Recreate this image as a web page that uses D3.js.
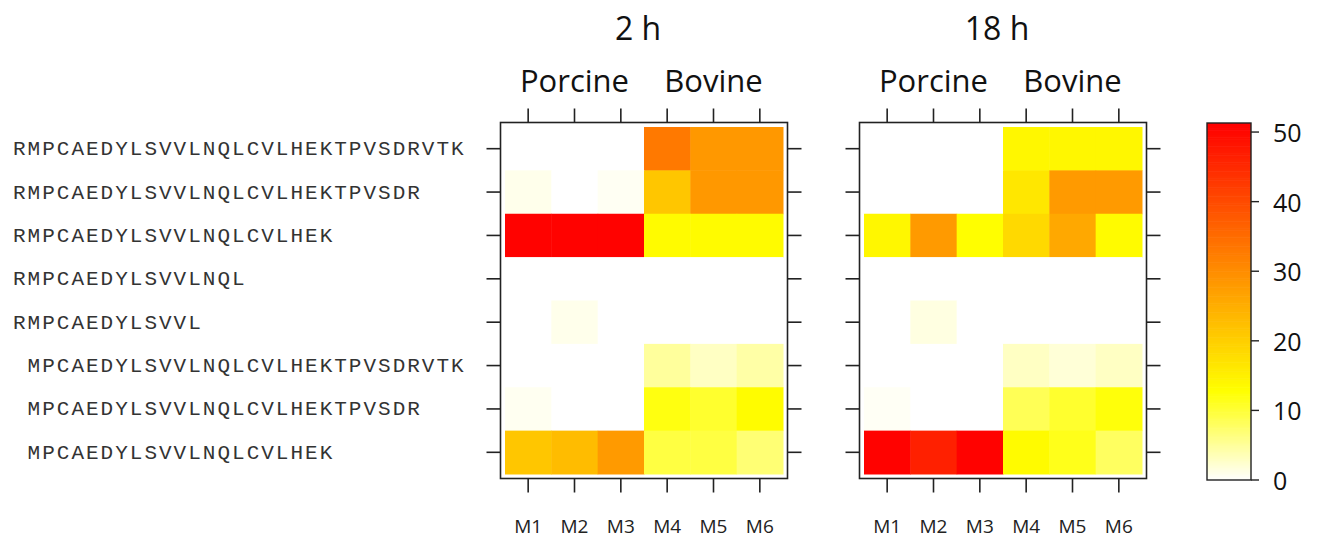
<!DOCTYPE html>
<html>
<head>
<meta charset="utf-8">
<script src="https://cdn.jsdelivr.net/npm/d3@7"></script>
<style>
  body { margin: 0; background: #fff; }
  svg { display: block; }
</style>
</head>
<body>
<svg id="chart"></svg>
<script>
/* data */
var peptides = [
  'RMPCAEDYLSVVLNQLCVLHEKTPVSDRVTK',
  'RMPCAEDYLSVVLNQLCVLHEKTPVSDR',
  'RMPCAEDYLSVVLNQLCVLHEK',
  'RMPCAEDYLSVVLNQL',
  'RMPCAEDYLSVVL',
  ' MPCAEDYLSVVLNQLCVLHEKTPVSDRVTK',
  ' MPCAEDYLSVVLNQLCVLHEKTPVSDR',
  ' MPCAEDYLSVVLNQLCVLHEK'
];
var samples = ['M1', 'M2', 'M3', 'M4', 'M5', 'M6'];
var groups = ['Porcine', 'Bovine'];
var panelTitles = ['2 h', '18 h'];
var legendTicks = [0, 10, 20, 30, 40, 50];
var maxValue = 51.3;

// one row per peptide, columns M1..M6
var values2h = [
  [0, 0, 0, 33, 28.3, 28.3],
  [1.0, 0, 0.6, 21.5, 28.3, 28.3],
  [51, 51, 51, 13.5, 13.5, 13.5],
  [0, 0, 0, 0, 0, 0],
  [0, 1.0, 0, 0, 0, 0],
  [0, 0, 0, 5, 3, 4.5],
  [0.7, 0, 0, 12, 10.5, 13.3],
  [21.5, 23, 28, 9.5, 9.5, 7]
];
var values18h = [
  [0, 0, 0, 14, 14, 14],
  [0, 0, 0, 16.5, 28, 28],
  [14, 28, 13, 18.5, 26, 13.5],
  [0, 0, 0, 0, 0, 0],
  [0, 1.5, 0, 0, 0, 0],
  [0, 0, 0, 3, 2, 3],
  [0.5, 0, 0, 8.5, 10.5, 12.3],
  [51, 46.5, 51, 13.5, 11.5, 8]
];

var width = 1321;
var height = 538;
var svg = d3.select('#chart').attr('width', width).attr('height', height);
var sansFont = '"Open Sans", "Noto Sans", sans-serif';

/* colour: white -> yellow for the lowest quarter, then hue yellow -> red */
var knee = maxValue / 4;
var lowScale = d3.scaleLinear().domain([0, knee]).range(['#ffffff', '#ffff00']).clamp(true);
var highScale = d3.scaleLinear().domain([knee, maxValue])
  .range(['#ffff00', '#ff0000']).interpolate(d3.interpolateHsl).clamp(true);
function heat(v) {
  return v <= knee ? lowScale(v) : highScale(v);
}

var cellTop = 127, cellBottom = 474, inset = 4.5;
var panels = [
  { title: panelTitles[0], data: values2h, x0: 505 },
  { title: panelTitles[1], data: values18h, x0: 864 }
];
var cellWidth = 278;

var y = d3.scaleBand().domain(d3.range(peptides.length)).range([cellTop, cellBottom]);

/* peptide labels */
svg.append('g').selectAll('text')
  .data(peptides)
  .enter()
  .append('text')
  .attr('x', 13)
  .attr('y', function(d, i){ return y(i) + y.bandwidth() / 2 + 1; })
  .attr('dominant-baseline', 'central')
  .style('white-space', 'pre')
  .style('font-family', '"Liberation Mono", "Courier New", monospace')
  .style('font-size', '21px')
  .style('letter-spacing', '2px')
  .style('fill', '#333')
  .text(function(d){ return d; });

panels.forEach(function(p){
  var x = d3.scaleBand().domain(samples).range([p.x0, p.x0 + cellWidth]);
  var g = svg.append('g');
  var fx0 = p.x0 - inset, fx1 = p.x0 + cellWidth + inset;
  var fy0 = cellTop - inset, fy1 = cellBottom + inset;

  var cells = [];
  p.data.forEach(function(row, r){
    row.forEach(function(v, c){ cells.push({ r: r, c: samples[c], v: v }); });
  });

  g.selectAll('rect.cell')
    .data(cells)
    .enter()
    .append('rect')
    .attr('class', 'cell')
    .attr('x', function(d){ return x(d.c); })
    .attr('y', function(d){ return y(d.r); })
    .attr('width', x.bandwidth() + 0.5)
    .attr('height', y.bandwidth() + 0.5)
    .attr('fill', function(d){ return heat(d.v); });

  // frame
  g.append('rect')
    .attr('x', fx0).attr('y', fy0)
    .attr('width', fx1 - fx0).attr('height', fy1 - fy0)
    .attr('fill', 'none').attr('stroke', '#222').attr('stroke-width', 1.6);

  // outward ticks
  var tickLen = 14;
  samples.forEach(function(s){
    var cx = x(s) + x.bandwidth() / 2;
    g.append('line').attr('x1', cx).attr('x2', cx).attr('y1', fy0).attr('y2', fy0 - tickLen)
      .attr('stroke', '#222').attr('stroke-width', 1.6);
    g.append('line').attr('x1', cx).attr('x2', cx).attr('y1', fy1).attr('y2', fy1 + tickLen)
      .attr('stroke', '#222').attr('stroke-width', 1.6);
  });
  peptides.forEach(function(d, i){
    var cy = y(i) + y.bandwidth() / 2;
    g.append('line').attr('x1', fx0).attr('x2', fx0 - tickLen).attr('y1', cy).attr('y2', cy)
      .attr('stroke', '#222').attr('stroke-width', 1.6);
    g.append('line').attr('x1', fx1).attr('x2', fx1 + tickLen).attr('y1', cy).attr('y2', cy)
      .attr('stroke', '#222').attr('stroke-width', 1.6);
  });

  // sample labels
  g.selectAll('text.sample')
    .data(samples)
    .enter()
    .append('text')
    .attr('class', 'sample')
    .attr('x', function(d){ return x(d) + x.bandwidth() / 2; })
    .attr('y', 533)
    .attr('text-anchor', 'middle')
    .style('font-family', sansFont)
    .style('font-size', '19px')
    .style('fill', '#222')
    .text(function(d){ return d; });

  // group labels
  groups.forEach(function(gName, gi){
    var a = samples[gi * 3], b = samples[gi * 3 + 2];
    var cx = (x(a) + x(b) + x.bandwidth()) / 2;
    g.append('text')
      .attr('x', cx).attr('y', 92)
      .attr('text-anchor', 'middle')
      .style('font-family', sansFont)
      .style('font-size', '31px')
      .style('fill', '#111')
      .text(gName);
  });

  // panel title
  g.append('text')
    .attr('x', (fx0 + fx1) / 2 - 6).attr('y', 40)
    .attr('text-anchor', 'middle')
    .style('font-family', sansFont)
    .style('font-size', '32px')
    .style('fill', '#111')
    .text(p.title);
});

/* colour key */
var keyX = 1207, keyW = 44;
var ky = d3.scaleLinear().domain([0, maxValue]).range([480, 123]);
var steps = d3.range(0, maxValue, maxValue / 200);
svg.append('g').selectAll('rect')
  .data(steps)
  .enter()
  .append('rect')
  .attr('x', keyX)
  .attr('y', function(d){ return ky(Math.min(d + maxValue / 200, maxValue)); })
  .attr('width', keyW)
  .attr('height', function(d){ return ky(d) - ky(Math.min(d + maxValue / 200, maxValue)) + 0.6; })
  .attr('fill', function(d){ return heat(d + maxValue / 400); });

svg.append('rect')
  .attr('x', keyX).attr('y', ky(maxValue))
  .attr('width', keyW).attr('height', ky(0) - ky(maxValue))
  .attr('fill', 'none').attr('stroke', '#222').attr('stroke-width', 1.4);

var keyAxis = svg.append('g');
legendTicks.forEach(function(t){
  keyAxis.append('line')
    .attr('x1', keyX + keyW).attr('x2', keyX + keyW + 8)
    .attr('y1', ky(t)).attr('y2', ky(t))
    .attr('stroke', '#222').attr('stroke-width', 1.4);
  keyAxis.append('text')
    .attr('x', 1273).attr('y', ky(t))
    .attr('dominant-baseline', 'central')
    .style('font-family', sansFont)
    .style('font-size', '25px')
    .style('fill', '#111')
    .text(t);
});
</script>
</body>
</html>
